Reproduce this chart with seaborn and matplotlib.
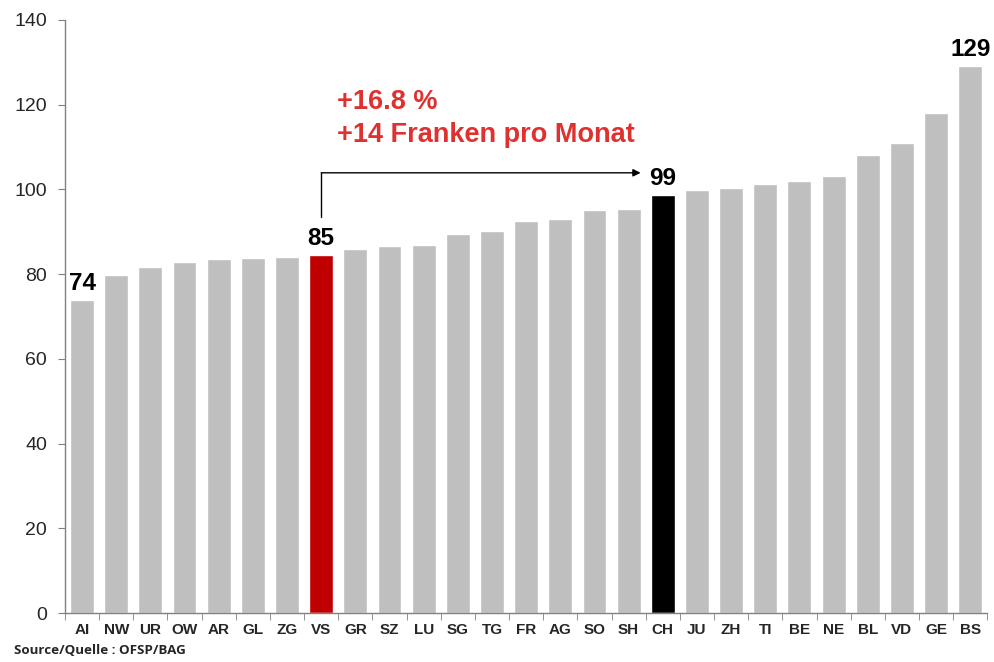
import matplotlib
matplotlib.use("Agg")
import matplotlib.pyplot as plt
import numpy as np
import pandas as pd
import seaborn as sns

sns.set_style("white")
plt.rcParams['font.family'] = ['Liberation Sans', 'DejaVu Sans']

cantons = ['AI', 'NW', 'UR', 'OW', 'AR', 'GL', 'ZG', 'VS', 'GR', 'SZ', 'LU', 'SG', 'TG', 'FR',
           'AG', 'SO', 'SH', 'CH', 'JU', 'ZH', 'TI', 'BE', 'NE', 'BL', 'VD', 'GE', 'BS']
premiums = [73.9, 79.8, 81.7, 82.9, 83.6, 83.8, 84.0, 84.5, 85.9, 86.6, 86.9, 89.5, 90.2, 92.5,
            93.0, 95.1, 95.4, 98.7, 99.9, 100.3, 101.3, 102.0, 103.2, 108.1, 111.0, 118.0, 129.1]
labelled = {'AI': '74', 'VS': '85', 'CH': '99', 'BS': '129'}
note_lines = ['+16.8 %', '+14 Franken pro Monat']
source = 'Source/Quelle : OFSP/BAG'

colors = []
for c in cantons:
    if c == 'VS':
        colors.append('#C00000')
    elif c == 'CH':
        colors.append('#000000')
    else:
        colors.append('#BFBFBF')

df = pd.DataFrame({'canton': cantons, 'value': premiums})

fig = plt.figure(figsize=(9.95, 6.62), dpi=100)
ax = fig.add_axes([0.0653, 0.074, 0.927, 0.896])
sns.barplot(data=df, x='canton', y='value', hue='canton', palette=colors,
            legend=False, width=0.7, saturation=1, ax=ax)

ax.set_ylim(0, 140)
ax.set_xlim(-0.5, len(cantons) - 0.5)
ax.set_yticks(np.arange(0, 141, 20))
ax.set_xlabel('')
ax.set_ylabel('')
for s in ['top', 'right']:
    ax.spines[s].set_visible(False)
for s in ['left', 'bottom']:
    ax.spines[s].set_color('#808080')
    ax.spines[s].set_linewidth(1.0)

ax.tick_params(axis='y', labelsize=14, length=5, color='#808080', direction='out', left=True, pad=8)
ax.tick_params(axis='x', which='major', length=0, labelsize=11, pad=7)
for t in ax.get_xticklabels():
    t.set_fontweight('bold')
ax.set_xticks(np.arange(-0.5, len(cantons), 1), minor=True)
ax.tick_params(axis='x', which='minor', length=5, color='#808080', direction='out', bottom=True)

for i, c in enumerate(cantons):
    if c in labelled:
        ax.text(i, premiums[i] + 1.2, labelled[c], ha='center', va='bottom',
                fontsize=17.5, fontweight='bold', color='black')

# arrow from VS up and across towards CH
i_vs = cantons.index('VS')
i_ch = cantons.index('CH')
ax.annotate('', xy=(i_ch - 0.65, 103.9), xytext=(i_vs, 103.9),
            arrowprops=dict(arrowstyle='-|>', color='black', lw=1, mutation_scale=11,
                            shrinkA=0, shrinkB=0))
ax.plot([i_vs, i_vs], [93.5, 103.9], color='black', lw=1)

ax.text(i_vs + 0.45, 120.6, note_lines[0], ha='left', va='center',
        fontsize=19.5, fontweight='bold', color='#E03131')
ax.text(i_vs + 0.45, 112.8, note_lines[1], ha='left', va='center',
        fontsize=19.5, fontweight='bold', color='#E03131')

fig.text(0.014, 0.018, source, ha='left', va='center', fontsize=9.6, fontweight='bold',
         family=['Open Sans', 'DejaVu Sans'])

fig.savefig('out.png', dpi=100)
